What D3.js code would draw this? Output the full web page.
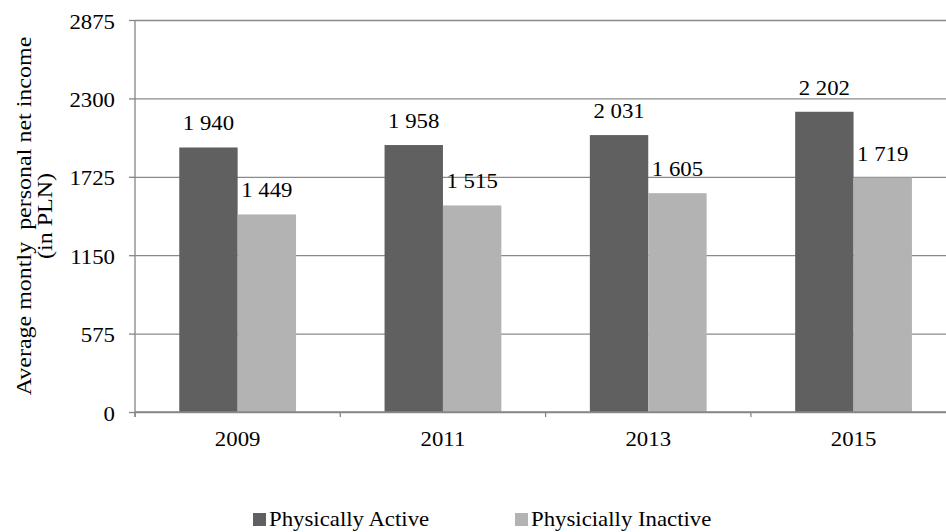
<!DOCTYPE html>
<html>
<head>
<meta charset="utf-8">
<title>income chart</title>
<script src="https://d3js.org/d3.v7.min.js"></script>
<style>
  body { margin: 0; background: #fff; }
  svg text { font-family: "Liberation Serif", "Times New Roman", serif; fill: #000; }
  .grid line { stroke: #8a8a8a; stroke-width: 1.3; }
  .grid path { display: none; }
  .axis path, .axis line { stroke: #868686; stroke-width: 1.3; }
</style>
</head>
<body>
<svg id="chart" width="946" height="532"></svg>
<script>
// data
var years = ["2009", "2011", "2013", "2015"];
var active = [1940, 1958, 2031, 2202];
var inactive = [1449, 1515, 1605, 1719];
var seriesNames = ["Physically Active", "Physicially Inactive"];
var seriesColors = ["#606060", "#b3b3b3"];
var yTicks = [0, 575, 1150, 1725, 2300, 2875];

var plotLeft = 135, plotTop = 20, plotBottom = 412, step = 205.3;
var sx = 1.14;   // the original font runs wide

var svg = d3.select("#chart");
var fmt = d3.formatLocale({decimal: ".", thousands: " ", grouping: [3], currency: ["", ""]}).format(",");

var x = d3.scaleBand().domain(years).range([plotLeft, plotLeft + step * years.length]);
var x1 = d3.scaleBand().domain([0, 1]).range([0, x.bandwidth()]).paddingOuter(0.758);
var y = d3.scaleLinear().domain([0, 2875]).range([plotBottom, plotTop]);

// gridlines
svg.append("g").attr("class", "grid")
  .attr("transform", "translate(" + plotLeft + ",0)")
  .call(d3.axisLeft(y).tickValues(yTicks).tickSize(-(946 - plotLeft)).tickFormat(""));

// bars
var rows = years.map(function(yr, i) { return {year: yr, vals: [active[i], inactive[i]]}; });
var grp = svg.selectAll("g.cat").data(rows).enter().append("g")
  .attr("class", "cat")
  .attr("transform", function(d) { return "translate(" + x(d.year) + ",0)"; });

grp.selectAll("rect").data(function(d) { return d.vals; }).enter().append("rect")
  .attr("x", function(d, i) { return x1(i); })
  .attr("y", function(d) { return y(d); })
  .attr("width", x1.bandwidth())
  .attr("height", function(d) { return plotBottom - y(d); })
  .attr("fill", function(d, i) { return seriesColors[i]; });

grp.selectAll("text").data(function(d) { return d.vals; }).enter().append("text")
  .attr("text-anchor", "middle")
  .attr("font-size", 20)
  .attr("transform", function(d, i) {
    return "translate(" + (x1(i) + x1.bandwidth() / 2) + "," + (y(d) - 17) + ") scale(" + sx + ",1)";
  })
  .text(function(d) { return fmt(d); });

// y axis
var yAxis = svg.append("g").attr("class", "axis")
  .attr("transform", "translate(" + plotLeft + ",0)")
  .call(d3.axisLeft(y).tickValues(yTicks).tickSize(6).tickSizeOuter(0).tickFormat(d3.format("d")));
yAxis.select(".domain").attr("d", "M0," + plotTop + "V" + (plotBottom + 5));
yAxis.selectAll("text")
  .attr("font-size", 20).attr("font-family", null)
  .attr("x", -20 / sx).attr("y", 8).attr("dy", null)
  .attr("transform", "scale(" + sx + ",1)");

// x axis
var xAxis = svg.append("g").attr("class", "axis")
  .attr("transform", "translate(0," + plotBottom + ")")
  .call(d3.axisBottom(x).tickSize(0).tickSizeOuter(0));
xAxis.select(".domain").attr("d", "M" + plotLeft + ",0H946");
xAxis.selectAll("text")
  .attr("font-size", 20).attr("font-family", null)
  .attr("y", 34).attr("dy", null)
  .attr("transform", "scale(" + sx + ",1)");
xAxis.selectAll("line.bound").data(years.concat(["end"])).enter().append("line")
  .attr("class", "bound")
  .attr("x1", function(d, i) { return x.range()[0] + i * x.step(); })
  .attr("x2", function(d, i) { return x.range()[0] + i * x.step(); })
  .attr("y1", 0).attr("y2", 5);

// y label
var ylab = svg.append("text")
  .attr("font-size", 20)
  .attr("text-anchor", "middle")
  .style("white-space", "pre");
ylab.append("tspan").attr("x", 0).attr("y", 0).text("Average montly  personal net income");
ylab.append("tspan").attr("x", 0).attr("y", 21).text("(in PLN)");
ylab.attr("transform", "translate(31,216) rotate(-90) scale(1.2,1)");

// legend
var legX = [253, 515];
var leg = svg.selectAll("g.leg").data(seriesNames).enter().append("g")
  .attr("class", "leg")
  .attr("transform", function(d, i) { return "translate(" + legX[i] + ",526)"; });
leg.append("rect").attr("x", 0).attr("y", -13).attr("width", 13).attr("height", 13)
  .attr("fill", function(d, i) { return seriesColors[i]; });
leg.append("text").attr("font-size", 20)
  .attr("transform", "translate(16,0) scale(" + sx + ",1)")
  .text(function(d) { return d; });
</script>
</body>
</html>
